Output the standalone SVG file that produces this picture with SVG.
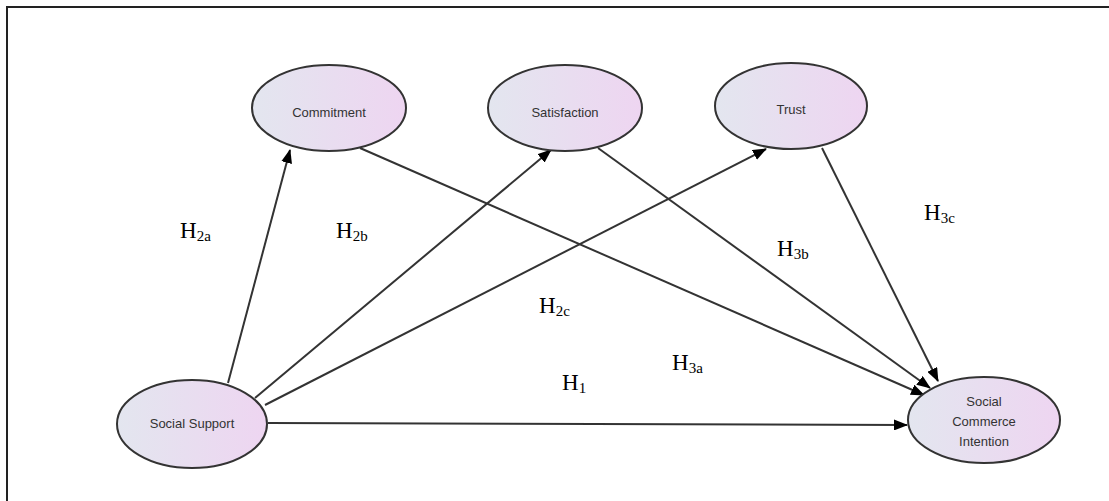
<svg xmlns="http://www.w3.org/2000/svg" width="1109" height="501" viewBox="0 0 1109 501">
<defs>
<linearGradient id="g" x1="0" y1="0" x2="1" y2="0">
<stop offset="0" stop-color="#e3e6ef"/>
<stop offset="1" stop-color="#eed5f1"/>
</linearGradient>
<marker id="arr" viewBox="0 0 14 11" refX="13" refY="5.5" markerWidth="14" markerHeight="11" markerUnits="userSpaceOnUse" orient="auto">
<path d="M0,0 L14,5.5 L0,11 z" fill="#000"/>
</marker>
<style>
.node ellipse{fill:url(#g);stroke:#333;stroke-width:2}
.node text{font-family:"Liberation Sans",Arial,sans-serif;font-size:13px;fill:#333;text-anchor:middle}
.conn line{stroke:#333;stroke-width:2;marker-end:url(#arr)}
.lbl{font-family:"Liberation Serif","Times New Roman",serif;font-size:23px;fill:#000}
.sub{font-size:15px}
</style>
</defs>
<rect width="1109" height="501" fill="#fff"/>
<path d="M7,501 V7 H1109" fill="none" stroke="#222" stroke-width="2"/>
<g id="connectors" class="conn">
<line x1="228" y1="383" x2="290" y2="150"/>
<line x1="255" y1="398" x2="551" y2="150"/>
<line x1="265" y1="405" x2="766" y2="149"/>
<line x1="268" y1="423" x2="907" y2="425"/>
<line x1="360" y1="148" x2="924" y2="395"/>
<line x1="598" y1="148" x2="930" y2="388"/>
<line x1="822" y1="148" x2="938" y2="381"/>
</g>
<g id="commitment" class="node"><ellipse cx="329" cy="108" rx="77" ry="43"/><text x="329" y="117">Commitment</text></g>
<g id="satisfaction" class="node"><ellipse cx="565" cy="108" rx="77" ry="43"/><text x="565" y="117">Satisfaction</text></g>
<g id="trust" class="node"><ellipse cx="791" cy="106" rx="76" ry="43"/><text x="791" y="114">Trust</text></g>
<g id="social-support" class="node"><ellipse cx="192" cy="424" rx="75" ry="44"/><text x="192" y="428">Social Support</text></g>
<g id="social-commerce-intention" class="node"><ellipse cx="984" cy="420" rx="76" ry="43"/><text x="984" y="406">Social</text><text x="984" y="426">Commerce</text><text x="984" y="446">Intention</text></g>
<g id="labels">
<text class="lbl" x="180" y="238">H<tspan class="sub" dy="3">2a</tspan></text>
<text class="lbl" x="336" y="238">H<tspan class="sub" dy="3">2b</tspan></text>
<text class="lbl" x="539" y="313">H<tspan class="sub" dy="3">2c</tspan></text>
<text class="lbl" x="562" y="390">H<tspan class="sub" dy="3">1</tspan></text>
<text class="lbl" x="672" y="370">H<tspan class="sub" dy="3">3a</tspan></text>
<text class="lbl" x="777" y="256">H<tspan class="sub" dy="3">3b</tspan></text>
<text class="lbl" x="924" y="220">H<tspan class="sub" dy="3">3c</tspan></text>
</g>
</svg>
